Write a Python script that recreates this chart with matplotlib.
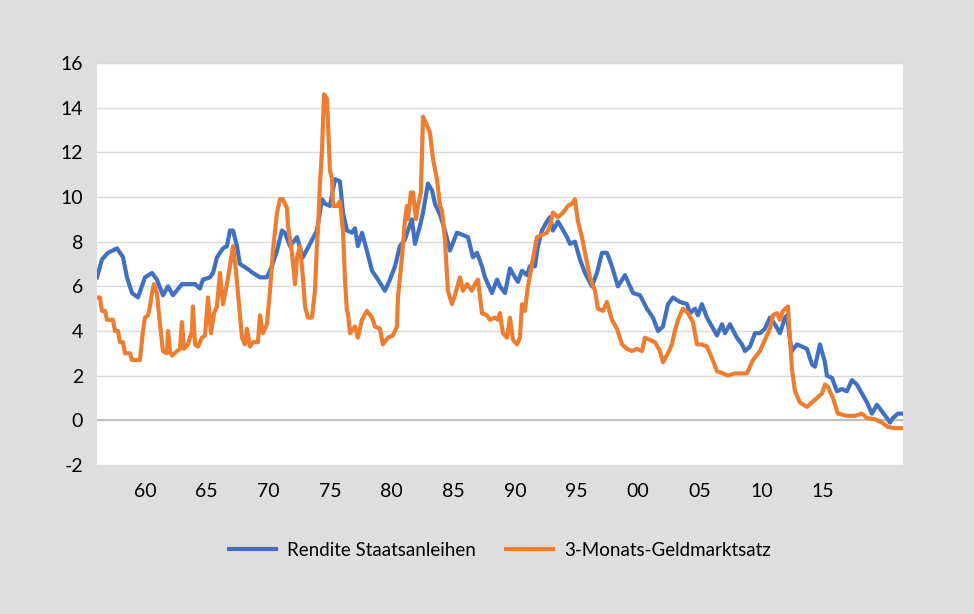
import matplotlib
matplotlib.use("Agg")
import matplotlib.pyplot as plt

# x in axis years (labels 60 ... 15), values in percent
bond_t = [1956.11, 1956.51, 1957.00, 1957.73, 1958.22, 1958.54, 1958.95, 1959.43, 1960.00, 1960.57,
          1960.97, 1961.46, 1961.87, 1962.27, 1963.00, 1963.49, 1964.06, 1964.46, 1964.70, 1965.27,
          1965.52, 1965.84, 1966.33, 1966.65, 1966.89, 1967.14, 1967.46, 1967.70, 1968.27, 1968.76,
          1969.33, 1969.89, 1970.30, 1970.71, 1971.11, 1971.35, 1971.76, 1972.33, 1972.81, 1973.38,
          1973.95, 1974.36, 1974.60, 1975.00, 1975.41, 1975.81, 1976.06, 1976.38, 1976.79, 1977.03,
          1977.27, 1977.60, 1978.00, 1978.41, 1978.90, 1979.46, 1979.87, 1980.28, 1980.68, 1981.09,
          1981.33, 1981.65, 1981.90, 1982.30, 1982.55, 1982.95, 1983.28, 1983.52, 1983.93, 1984.33,
          1984.74, 1985.30, 1985.79, 1986.20, 1986.60, 1986.93, 1987.33, 1987.58, 1988.14, 1988.55,
          1988.79, 1989.20, 1989.60, 1990.01, 1990.25, 1990.58, 1990.98, 1991.22, 1991.63, 1991.87,
          1992.20, 1992.60, 1992.85, 1993.09, 1993.50, 1993.82, 1994.23, 1994.47, 1994.87, 1995.28,
          1995.69, 1996.25, 1996.66, 1997.06, 1997.47, 1997.87, 1998.36, 1998.93, 1999.58, 2000.15,
          2000.71, 2001.20, 2001.61, 2002.01, 2002.42, 2002.82, 2003.39, 2003.96, 2004.20, 2004.61,
          2004.85, 2005.17, 2005.58, 2005.98, 2006.39, 2006.80, 2007.04, 2007.45, 2008.01, 2008.42,
          2008.66, 2009.07, 2009.47, 2009.88, 2010.28, 2010.69, 2011.09, 2011.50, 2011.91, 2012.07,
          2012.31, 2012.47, 2012.88, 2013.28, 2013.69, 2014.10, 2014.34, 2014.74, 2015.15, 2015.31,
          2015.72, 2016.12, 2016.53, 2016.93, 2017.34, 2017.74, 2018.15, 2018.56, 2018.96, 2019.37,
          2019.77, 2020.18, 2020.42, 2020.66, 2021.07, 2021.48]
bond_y = [6.4, 7.2, 7.5, 7.7, 7.3, 6.4, 5.7, 5.5, 6.4, 6.6,
          6.3, 5.6, 6.0, 5.6, 6.1, 6.1, 6.1, 5.9, 6.3, 6.4,
          6.6, 7.3, 7.7, 7.8, 8.5, 8.5, 7.8, 7.0, 6.8, 6.6,
          6.4, 6.4, 6.9, 7.6, 8.5, 8.4, 7.8, 8.2, 7.3, 7.9,
          8.5, 9.9, 9.7, 9.6, 10.8, 10.7, 9.3, 8.5, 8.4, 8.6,
          7.8, 8.4, 7.6, 6.7, 6.3, 5.8, 6.3, 6.9, 7.8, 8.1,
          8.5, 9.0, 7.9, 8.7, 9.3, 10.6, 10.3, 9.7, 9.2, 8.5,
          7.6, 8.4, 8.3, 8.2, 7.3, 7.5, 6.9, 6.4, 5.7, 6.3,
          6.0, 5.7, 6.8, 6.4, 6.2, 6.7, 6.5, 6.9, 6.9, 7.8,
          8.5, 8.9, 9.1, 8.5, 8.9, 8.6, 8.2, 7.9, 8.0, 7.2,
          6.6, 6.0, 6.6, 7.5, 7.5, 6.9, 6.0, 6.5, 5.7, 5.6,
          5.0, 4.6, 4.0, 4.2, 5.2, 5.5, 5.3, 5.2, 4.8, 5.0,
          4.7, 5.2, 4.6, 4.2, 3.8, 4.3, 3.9, 4.3, 3.7, 3.4,
          3.1, 3.3, 3.9, 3.9, 4.1, 4.6, 4.3, 3.9, 4.6, 4.7,
          3.6, 3.1, 3.4, 3.3, 3.2, 2.5, 2.4, 3.4, 2.6, 2.0,
          1.9, 1.3, 1.4, 1.3, 1.8, 1.6, 1.2, 0.8, 0.3, 0.7,
          0.4, 0.1, -0.1, 0.1, 0.3, 0.3]

money_t = [1956.11, 1956.35, 1956.51, 1956.76, 1956.92, 1957.40, 1957.57, 1957.81, 1957.97, 1958.22,
           1958.38, 1958.78, 1958.95, 1959.59, 1959.84, 1960.00, 1960.24, 1960.41, 1960.57, 1960.73,
           1960.97, 1961.22, 1961.46, 1961.78, 1961.87, 1962.03, 1962.19, 1962.60, 1962.84, 1963.00,
           1963.16, 1963.49, 1963.81, 1963.89, 1964.06, 1964.30, 1964.62, 1964.87, 1965.11, 1965.35,
           1965.60, 1965.84, 1966.08, 1966.33, 1966.65, 1966.89, 1967.14, 1967.38, 1967.54, 1967.87,
           1968.11, 1968.27, 1968.52, 1968.76, 1969.16, 1969.33, 1969.57, 1969.89, 1970.14, 1970.38,
           1970.71, 1970.95, 1971.19, 1971.52, 1971.60, 1971.92, 1972.17, 1972.33, 1972.57, 1972.81,
           1972.98, 1973.22, 1973.54, 1973.79, 1973.95, 1974.03, 1974.19, 1974.36, 1974.52, 1974.76,
           1975.00, 1975.17, 1975.25, 1975.57, 1975.81, 1976.06, 1976.22, 1976.38, 1976.46, 1976.63,
           1977.03, 1977.27, 1977.60, 1978.00, 1978.41, 1978.65, 1979.06, 1979.30, 1979.71, 1980.11,
           1980.44, 1980.52, 1980.84, 1981.09, 1981.25, 1981.33, 1981.57, 1981.74, 1981.98, 1982.14,
           1982.38, 1982.55, 1982.87, 1983.11, 1983.36, 1983.68, 1983.93, 1984.09, 1984.33, 1984.57,
           1984.90, 1985.14, 1985.55, 1985.79, 1986.12, 1986.52, 1986.76, 1987.01, 1987.33, 1987.74,
           1987.98, 1988.39, 1988.63, 1988.79, 1989.03, 1989.36, 1989.60, 1989.85, 1990.17, 1990.41,
           1990.58, 1990.82, 1991.06, 1991.39, 1991.79, 1992.20, 1992.60, 1992.85, 1993.09, 1993.50,
           1993.91, 1994.31, 1994.63, 1994.87, 1995.12, 1995.44, 1995.69, 1996.09, 1996.50, 1996.74,
           1997.15, 1997.47, 1997.87, 1998.28, 1998.69, 1999.09, 1999.50, 1999.90, 2000.31, 2000.55,
           2000.96, 2001.36, 2001.77, 2002.01, 2002.42, 2002.74, 2002.98, 2003.23, 2003.63, 2004.04,
           2004.44, 2004.77, 2005.17, 2005.58, 2005.98, 2006.39, 2006.88, 2007.28, 2007.85, 2008.42,
           2008.82, 2009.31, 2009.88, 2010.28, 2010.69, 2010.93, 2011.26, 2011.50, 2011.74, 2012.15,
           2012.31, 2012.47, 2012.72, 2013.12, 2013.69, 2014.10, 2014.50, 2014.91, 2015.15, 2015.39,
           2015.80, 2016.20, 2016.93, 2017.58, 2018.15, 2018.56, 2019.21, 2019.77, 2020.26, 2020.83,
           2021.48]
money_y = [5.5, 5.5, 4.9, 4.9, 4.5, 4.5, 4.0, 4.0, 3.5, 3.5,
           3.0, 3.0, 2.7, 2.7, 4.0, 4.6, 4.7, 5.1, 5.7, 6.1,
           5.7, 4.3, 3.1, 3.0, 4.0, 3.1, 2.9, 3.1, 3.2, 4.4,
           3.2, 3.4, 4.0, 5.1, 3.4, 3.3, 3.7, 3.8, 5.5, 3.9,
           4.8, 5.1, 6.6, 5.2, 6.1, 6.9, 7.8, 6.7, 5.7, 3.7,
           3.4, 4.1, 3.3, 3.5, 3.5, 4.7, 3.9, 4.3, 5.8, 7.6,
           9.3, 9.9, 9.9, 9.5, 8.7, 7.5, 6.1, 7.3, 7.8, 6.4,
           5.1, 4.6, 4.6, 5.8, 7.9, 8.5, 10.6, 12.1, 14.6, 14.4,
           11.2, 10.8, 9.6, 9.6, 9.8, 8.5, 6.3, 4.9, 4.8, 3.9,
           4.2, 3.7, 4.5, 4.9, 4.6, 4.2, 4.1, 3.4, 3.7, 3.8,
           4.2, 5.5, 7.3, 9.0, 9.6, 9.0, 10.2, 10.2, 9.0, 9.6,
           10.2, 13.6, 13.2, 12.9, 11.7, 10.8, 9.6, 9.4, 8.1, 5.8,
           5.2, 5.6, 6.4, 5.8, 6.1, 5.8, 6.1, 6.3, 4.8, 4.7,
           4.5, 4.6, 4.5, 4.8, 3.9, 3.7, 4.6, 3.6, 3.4, 3.7,
           5.2, 4.9, 6.0, 7.0, 8.2, 8.3, 8.4, 8.7, 9.3, 9.1,
           9.3, 9.6, 9.7, 9.9, 8.9, 8.2, 7.5, 6.4, 5.8, 5.0,
           4.9, 5.3, 4.5, 4.1, 3.4, 3.2, 3.1, 3.2, 3.1, 3.7,
           3.6, 3.5, 3.1, 2.6, 3.0, 3.4, 4.0, 4.5, 5.0, 4.8,
           4.4, 3.4, 3.4, 3.3, 2.8, 2.2, 2.1, 2.0, 2.1, 2.1,
           2.1, 2.7, 3.1, 3.6, 4.1, 4.7, 4.8, 4.5, 4.9, 5.1,
           3.7, 2.3, 1.3, 0.8, 0.6, 0.8, 1.0, 1.2, 1.6, 1.5,
           1.0, 0.3, 0.2, 0.2, 0.3, 0.1, 0.05, -0.1, -0.3, -0.35,
           -0.35]

tick_pos = [1960, 1965, 1970, 1975, 1980, 1985, 1990, 1995, 2000, 2005, 2010, 2015]
tick_lbl = ["60", "65", "70", "75", "80", "85", "90", "95", "00", "05", "10", "15"]

plt.rcParams['font.family'] = ['Lato', 'DejaVu Sans']
plt.rcParams['axes.unicode_minus'] = False

bg = '#dedede'
fig = plt.figure(figsize=(9.74, 6.14), dpi=100, facecolor=bg)
ax = fig.add_axes([0.0996, 0.2427, 0.8275, 0.6547])
ax.set_facecolor('white')

ax.plot(bond_t, bond_y, color='#4170c0', lw=3, label='Rendite Staatsanleihen', zorder=3)
ax.plot(money_t, money_y, color='#ed7d31', lw=3, label='3-Monats-Geldmarktsatz', zorder=3)

ax.set_xlim(1956.11, 2021.48)
ax.set_ylim(-2, 16)
ax.set_yticks(range(-2, 17, 2))
ax.set_xticks(tick_pos)
ax.set_xticklabels(tick_lbl)
ax.grid(axis='y', color='#d9d9d9', lw=1)
ax.axhline(0, color='#bfbfbf', lw=1.5, zorder=2)
ax.set_axisbelow(True)
for s in ax.spines.values():
    s.set_visible(False)
ax.tick_params(axis='both', length=0, labelsize=14, colors='#000000')
ax.tick_params(axis='y', pad=10)
ax.tick_params(axis='x', pad=13)

fig.legend(loc='center', bbox_to_anchor=(0.513, 0.104), ncol=2, frameon=False,
           fontsize=13.5, handlelength=2.5, columnspacing=1.6, handletextpad=0.6)

fig.savefig('out.png', dpi=100, facecolor=bg)
